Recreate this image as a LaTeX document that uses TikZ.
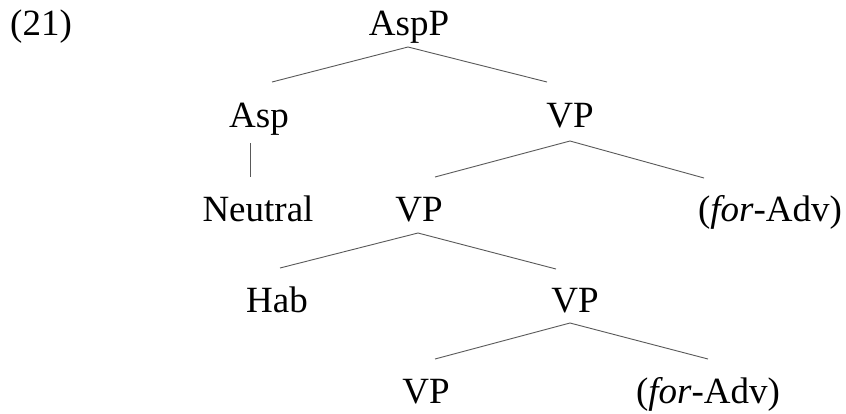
\documentclass[tikz,border=0pt]{standalone}
\usepackage{fontspec}
\setmainfont{Liberation Serif}
\begin{document}
\begin{tikzpicture}[x=1pt,y=-1pt,
  lab/.style={anchor=base,inner sep=0pt,font=\fontsize{37}{41}\selectfont},
  branch/.style={draw=black!65,line width=0.9pt}]
\useasboundingbox[fill=white] (0,0) rectangle (846,413);
% labels
\node[lab,anchor=base west] (ex) at (10,35) {(21)};
\node[lab] (aspp) at (409,35) {AspP};
\node[lab] (asp) at (259,127) {Asp};
\node[lab] (vpa) at (570,127) {VP};
\node[lab] (neutral) at (258,221) {Neutral};
\node[lab] (vpb) at (419,221) {VP};
\node[lab] (adva) at (770,221) {(\textit{for}-Adv)};
\node[lab] (hab) at (277,312) {Hab};
\node[lab] (vpc) at (575,312) {VP};
\node[lab] (vpd) at (426,403) {VP};
\node[lab] (advb) at (708,403) {(\textit{for}-Adv)};
% branch end points
\coordinate (aspp-f) at (408,47);
\coordinate (asp-t) at (272,82);
\coordinate (vpa-t) at (547,82);
\coordinate (asp-f) at (250,143);
\coordinate (neutral-t) at (250,177);
\coordinate (vpa-f) at (570,141);
\coordinate (vpb-t) at (435,177);
\coordinate (adva-t) at (704,178);
\coordinate (vpb-f) at (418,233);
\coordinate (hab-t) at (280,268);
\coordinate (vpc-t) at (556,269);
\coordinate (vpc-f) at (570,323);
\coordinate (vpd-t) at (435,359);
\coordinate (advb-t) at (708,359);
% branches
\draw[branch] (asp-t) -- (aspp-f) -- (vpa-t);
\draw[branch] (asp-f) -- (neutral-t);
\draw[branch] (vpb-t) -- (vpa-f) -- (adva-t);
\draw[branch] (hab-t) -- (vpb-f) -- (vpc-t);
\draw[branch] (vpd-t) -- (vpc-f) -- (advb-t);
\end{tikzpicture}
\end{document}
